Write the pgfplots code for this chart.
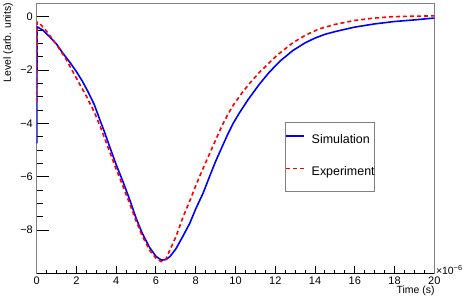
\documentclass[border=0pt]{standalone}
\usepackage{pgfplots}
\pgfplotsset{compat=1.18}
\usepackage{fontspec}
\setmainfont{Liberation Sans}
\definecolor{framegray}{RGB}{128,128,128}
\begin{document}
\begin{tikzpicture}
\begin{axis}[
  scale only axis, width=397.6bp, height=270bp,
  xmin=0, xmax=20, ymin=-9.64, ymax=0.476,
  xtick={0,2,...,20}, ytick={-8,-6,-4,-2,0},
  yticklabels={−8,−6,−4,−2,0},
  minor x tick num=3, minor y tick num=3,
  tick align=inside, xtick pos=bottom, ytick pos=left,
  scaled ticks=false,
  /pgf/number format/assume math mode=true,
  tick label style={font=\fontsize{11}{13}\selectfont},
  xticklabel style={inner sep=0pt, anchor=north, yshift=-2.8bp},
  yticklabel style={inner sep=0pt, anchor=east, xshift=-3.7bp},
  x tick style={black, line width=1bp, /pgfplots/major tick length=8bp, /pgfplots/minor tick length=4bp},
  y tick style={black, line width=1bp, /pgfplots/major tick length=12bp, /pgfplots/minor tick length=6bp},
  axis line style={draw=framegray, line width=1bp},
  legend cell align=left,
  legend style={at={(rel axis cs:0.6245,0.5619)}, anchor=north west,
    draw=framegray, line width=0.8bp, inner xsep=0pt, inner ysep=12bp,
    row sep=20.3bp, column sep=6.7bp,
    font=\fontsize{12.5}{14}\selectfont,
    nodes={inner sep=0pt, text height=9bp, text depth=3bp}},
  legend image code/.code={\draw[#1] (0bp,4.5bp) -- (18bp,4.5bp);},
]
\addplot[blue, line width=1.6bp, line join=round] coordinates {
(0,-4.75) (0.02,-0.38) (0.3,-0.5) (0.65,-0.75) (1.0,-1.03) (1.32,-1.37)
(1.7,-1.74) (2.0,-2.06) (2.3,-2.42) (2.58,-2.81) (2.9,-3.3) (3.17,-3.85)
(3.4,-4.3) (3.67,-4.87) (4.0,-5.55) (4.34,-6.18) (4.7,-6.9) (5.0,-7.55)
(5.3,-8.1) (5.68,-8.65) (6.0,-8.98) (6.27,-9.12) (6.5,-9.1) (6.7,-8.99)
(7.0,-8.7) (7.3,-8.3) (7.7,-7.74) (8.0,-7.2) (8.37,-6.61) (8.7,-5.98)
(9.0,-5.42) (9.3,-4.92) (9.6,-4.42) (9.88,-4.0) (10.2,-3.6) (10.62,-3.12)
(11.21,-2.52) (11.7,-2.08) (12.23,-1.67) (12.88,-1.27) (13.5,-0.98)
(14.0,-0.8) (14.5,-0.66) (15.0,-0.56) (15.4,-0.49) (16.0,-0.39) (17.0,-0.27)
(18.0,-0.18) (19.0,-0.12) (20.0,-0.05)
};
\addlegendentry{Simulation}
\addplot[red, line width=1.6bp, line join=round, dash pattern=on 4bp off 3bp] coordinates {
(0,-3.2) (0.02,-0.2) (0.15,-0.25) (0.5,-0.55) (1.0,-1.05) (1.5,-1.62)
(1.82,-2.06) (2.2,-2.58) (2.5,-2.98) (2.9,-3.58) (3.2,-4.12) (3.5,-4.72)
(4.0,-5.72) (4.34,-6.35) (4.7,-7.05) (5.0,-7.65) (5.3,-8.2) (5.68,-8.75)
(6.0,-9.05) (6.27,-9.18) (6.5,-9.08) (6.7,-8.74) (7.0,-8.25) (7.37,-7.49)
(7.69,-6.92) (8.04,-6.26) (8.3,-5.8) (8.61,-5.28) (9.0,-4.62) (9.3,-4.12)
(9.6,-3.68) (9.9,-3.3) (10.38,-2.8) (10.8,-2.42) (11.21,-2.08) (12.05,-1.47)
(12.88,-0.98) (13.5,-0.7) (14.2,-0.46) (15.0,-0.29) (15.4,-0.23) (16.0,-0.14)
(17.0,-0.05) (17.9,0.0) (19.0,0.02) (20.0,0.03)
};
\addlegendentry{Experiment\hspace{9bp}}
\draw[black, line width=1bp] (rel axis cs:0,0) -- (rel axis cs:1,0);
\end{axis}
\path[use as bounding box] ([xshift=-36.7bp,yshift=-30bp]current axis.south west) rectangle ([xshift=29.7bp,yshift=4bp]current axis.north east);
\node[rotate=90, anchor=north east, inner sep=0pt, font=\fontsize{10.5}{12}\selectfont]
  at ([xshift=-33.5bp,yshift=1bp]current axis.north west) {Level (arb. units)};
\node[anchor=north east, inner sep=0pt, font=\fontsize{10.5}{12}\selectfont]
  at ([xshift=0.5bp,yshift=-12bp]current axis.south east) {Time (s)};
\node[anchor=base west, inner sep=0pt, font=\fontsize{10.5}{12}\selectfont]
  at ([xshift=1.5bp,yshift=-0.5bp]current axis.south east) {×10\textsuperscript{−6}};
\end{tikzpicture}
\end{document}
